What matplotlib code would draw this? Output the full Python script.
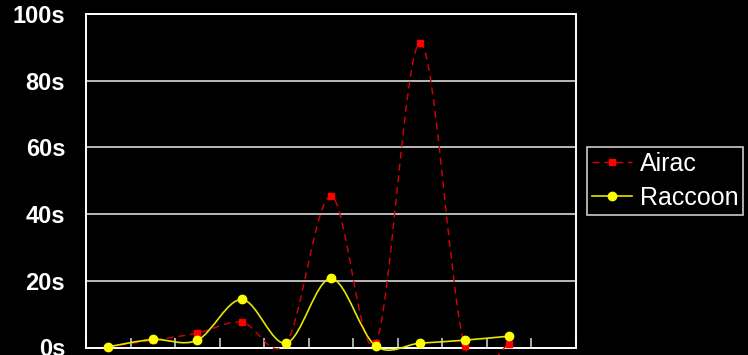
import matplotlib
matplotlib.use('Agg')
import matplotlib.pyplot as plt
from matplotlib.path import Path
from matplotlib.patches import PathPatch
from matplotlib.lines import Line2D
import numpy as np

plt.rcParams['font.family'] = ['Liberation Sans', 'DejaVu Sans']

# 数据
categories = list(range(1, 12))  # 11 个分类，最后一个为空
airac = [0.2, 2.2, 4.3, 7.6, 1.4, 45.4, 1.3, 91.3, 0.5, 1.0]
raccoon = [0.2, 2.4, 2.2, 14.4, 1.3, 20.7, 0.5, 1.3, 2.2, 3.4]
yticks = [0, 20, 40, 60, 80, 100]
ytick_labels = ['0s', '20s', '40s', '60s', '80s', '100s']
series_names = ['Airac', 'Raccoon']


def smooth_path(xs, ys):
    # Excel 风格的平滑曲线（Catmull-Rom -> 三次贝塞尔）
    pts = np.column_stack([xs, ys]).astype(float)
    n = len(pts)
    verts = [pts[0]]
    codes = [Path.MOVETO]
    for i in range(n - 1):
        p0 = pts[i - 1] if i > 0 else pts[i]
        p1 = pts[i]
        p2 = pts[i + 1]
        p3 = pts[i + 2] if i + 2 < n else pts[i + 1]
        c1 = p1 + (p2 - p0) / 6.0
        c2 = p2 - (p3 - p1) / 6.0
        verts += [c1, c2, p2]
        codes += [Path.CURVE4] * 3
    return Path(verts, codes)


fig = plt.figure(figsize=(7.48, 3.55), dpi=100, facecolor='black')
ax = fig.add_axes([86 / 748, 7.5 / 355, 490 / 748, 333.5 / 355])
ax.set_facecolor('black')

x = np.arange(len(airac))
red = '#ff0000'
yellow = '#ffff00'

p1 = PathPatch(smooth_path(x, airac), fill=False, edgecolor='#dd0000', lw=1.0,
               linestyle=(0, (5, 3.5)), clip_on=False, zorder=3)
ax.add_patch(p1)
p2 = PathPatch(smooth_path(x, raccoon), fill=False, edgecolor='#e6e600', lw=1.2,
               clip_on=False, zorder=4)
ax.add_patch(p2)

ax.plot(x, airac, ls='none', marker='s', ms=4.5, color=red, mec=red, clip_on=False, zorder=5)
ax.plot(x, raccoon, ls='none', marker='o', ms=6, color=yellow, mec=yellow, clip_on=False, zorder=6)

ax.set_xlim(-0.5, len(categories) - 0.5)
ax.set_ylim(0, 100)

ax.set_yticks(yticks)
ax.set_yticklabels(ytick_labels, fontsize=17, fontweight='bold', color='white')
ax.tick_params(axis='y', length=0, pad=15)
ax.yaxis.grid(True, color='#d8d8d8', lw=1.2)
ax.set_axisbelow(True)

ax.set_xticks(np.arange(len(categories) + 1) - 0.5)
ax.set_xticklabels([])
ax.tick_params(axis='x', direction='in', length=7, width=1.2, color='#c8c8c8')

for s in ax.spines.values():
    s.set_color('white')
    s.set_linewidth(1.4)

handles = [
    Line2D([], [], color='#dd0000', lw=1.0, ls=(0, (5, 3.5)), marker='s', ms=4.5, mfc=red, mec=red),
    Line2D([], [], color='#e6e600', lw=1.2, marker='o', ms=6, mfc=yellow, mec=yellow),
]
leg = fig.legend(handles, series_names, loc='upper left', bbox_to_anchor=(587 / 748, 1 - 147 / 355),
                 frameon=True, fancybox=False, fontsize=18, handlelength=1.6,
                 handletextpad=0.3, borderpad=0.2, labelspacing=0.4, borderaxespad=0)
leg.get_frame().set_facecolor('black')
leg.get_frame().set_edgecolor('white')
leg.get_frame().set_linewidth(1.2)
for t in leg.get_texts():
    t.set_color('white')

fig.savefig('out.png', dpi=100, facecolor='black')
